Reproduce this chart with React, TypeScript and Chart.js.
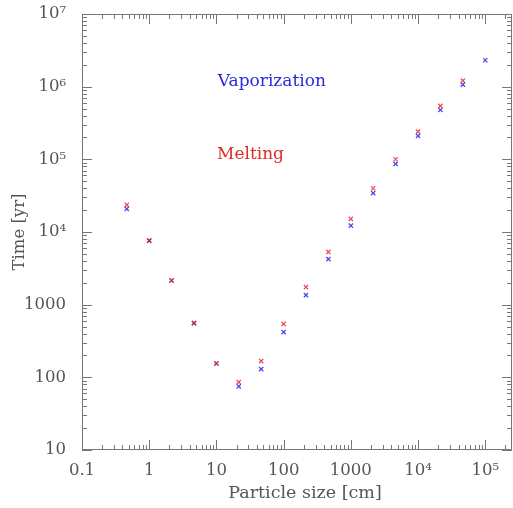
import React, { useEffect, useRef } from "react";
import { Chart, registerables } from "chart.js";

Chart.register(...registerables);

const particleSize = [0.464, 1, 2.15, 4.64, 10, 21.5, 46.4, 100, 215, 464, 1000, 2150, 4640, 1e4, 2.15e4, 4.64e4, 1e5];
const vaporization = [20800, 7620, 2150, 556, 155, 75, 130, 419, 1350, 4230, 12250, 34200, 86500, 210000, 478000, 1066000, 2310000];
const melting = [23600, 7620, 2150, 556, 155, 86, 167, 544, 1740, 5320, 15150, 40000, 100200, 240500, 543000, 1210000];

const xLabels: Record<number, string> = { [-1]: "0.1", 0: "1", 1: "10", 2: "100", 3: "1000", 4: "10⁴", 5: "10⁵" };
const yLabels: Record<number, string> = { 1: "10", 2: "100", 3: "1000", 4: "10⁴", 5: "10⁵", 6: "10⁶", 7: "10⁷" };

const X_MIN = 0.1;
const X_MAX = 2.5e5;
const Y_MIN = 10;
const Y_MAX = 1e7;

const annotations = [
  { text: "Vaporization", x: 10.5, y: 1.16e6, color: "#2a2ae0" },
  { text: "Melting", x: 10.2, y: 1.15e5, color: "#e02a2a" },
];

const SERIF = "'DejaVu Serif', serif";
const GREY = "#555";

function decadeLabel(map: Record<number, string>, v: number) {
  const l = Math.log10(v);
  const r = Math.round(l);
  if (Math.abs(l - r) < 1e-6 && map[r] !== undefined) return map[r];
  return "";
}

const framePlugin = {
  id: "frameTicks",
  afterDraw(chart: any) {
    const { ctx, chartArea } = chart;
    const { left, right, top, bottom } = chartArea;
    const xs = chart.scales.x;
    const ys = chart.scales.y;
    ctx.save();
    ctx.strokeStyle = "#777";
    ctx.lineWidth = 1;
    ctx.beginPath();
    ctx.rect(left + 0.5, top + 0.5, right - left - 1, bottom - top - 1);
    ctx.stroke();
    const MAJ = 10;
    const MIN = 5;
    ctx.beginPath();
    for (let e = -2; e <= 8; e++) {
      for (let m = 1; m <= 9; m++) {
        const v = m * Math.pow(10, e);
        const len = m === 1 ? MAJ : MIN;
        if (v >= X_MIN * 0.999 && v <= X_MAX) {
          const px = Math.round(xs.getPixelForValue(v)) + 0.5;
          ctx.moveTo(px, bottom);
          ctx.lineTo(px, bottom - len);
          ctx.moveTo(px, top);
          ctx.lineTo(px, top + len);
        }
        if (v >= Y_MIN * 0.999 && v <= Y_MAX * 1.001) {
          const py = Math.round(ys.getPixelForValue(v)) + 0.5;
          ctx.moveTo(left, py);
          ctx.lineTo(left + len, py);
          ctx.moveTo(right, py);
          ctx.lineTo(right - len, py);
        }
      }
    }
    ctx.stroke();

    // annotations
    ctx.font = "17px " + SERIF;
    ctx.textBaseline = "middle";
    ctx.textAlign = "left";
    for (const a of annotations) {
      ctx.fillStyle = a.color;
      ctx.fillText(a.text, xs.getPixelForValue(a.x), ys.getPixelForValue(a.y));
    }

    // axis titles
    ctx.fillStyle = GREY;
    ctx.font = "17.5px " + SERIF;
    ctx.textAlign = "center";
    ctx.fillText("Particle size [cm]", 305, 493);
    ctx.font = "16.5px " + SERIF;
    ctx.translate(20, (top + bottom) / 2);
    ctx.rotate(-Math.PI / 2);
    ctx.fillText("Time [yr]", 0, 0);
    ctx.restore();
  },
};

export default function App() {
  const ref = useRef<HTMLCanvasElement | null>(null);
  useEffect(() => {
    if (!ref.current) return;
    const chart = new Chart(ref.current, {
      type: "scatter",
      data: {
        datasets: [
          {
            label: "Melting",
            data: melting.map((t, i) => ({ x: particleSize[i], y: t })),
            pointStyle: "crossRot",
            pointRadius: 3,
            borderWidth: 1.3,
            borderColor: "rgba(235,20,40,0.75)",
            backgroundColor: "rgba(235,20,40,0.75)",
          },
          {
            label: "Vaporization",
            data: vaporization.map((t, i) => ({ x: particleSize[i], y: t })),
            pointStyle: "crossRot",
            pointRadius: 3,
            borderWidth: 1.3,
            borderColor: "rgba(30,30,235,0.8)",
            backgroundColor: "rgba(30,30,235,0.8)",
          },
        ],
      },
      options: {
        animation: false,
        responsive: false,
        layout: { autoPadding: false, padding: { top: 14, right: 1, left: 0, bottom: 0 } },
        plugins: { legend: { display: false }, tooltip: { enabled: false } },
        scales: {
          x: {
            type: "logarithmic",
            min: X_MIN,
            max: X_MAX,
            grid: { display: false },
            border: { display: false },
            ticks: {
              autoSkip: false,
              maxRotation: 0,
              padding: 3,
              color: GREY,
              font: { family: SERIF, size: 16.5 },
              callback: (v: any) => decadeLabel(xLabels, Number(v)),
            },
            afterFit: (s: any) => {
              s.height = 58;
              s.paddingLeft = 0;
              s.paddingRight = 0;
            },
          },
          y: {
            type: "logarithmic",
            min: Y_MIN,
            max: Y_MAX,
            grid: { display: false },
            border: { display: false },
            ticks: {
              autoSkip: false,
              padding: 8,
              color: GREY,
              font: { family: SERIF, size: 16.5 },
              callback: (v: any) => decadeLabel(yLabels, Number(v)),
            },
            afterFit: (s: any) => {
              s.width = 82;
              s.paddingTop = 0;
              s.paddingBottom = 0;
            },
          },
        },
      },
      plugins: [framePlugin],
    } as any);
    return () => chart.destroy();
  }, []);
  return (
    <div style={{ position: "absolute", left: 0, top: 0, width: 513, height: 508, background: "#fff" }}>
      <canvas ref={ref} width={513} height={508} style={{ display: "block" }} />
    </div>
  );
}
